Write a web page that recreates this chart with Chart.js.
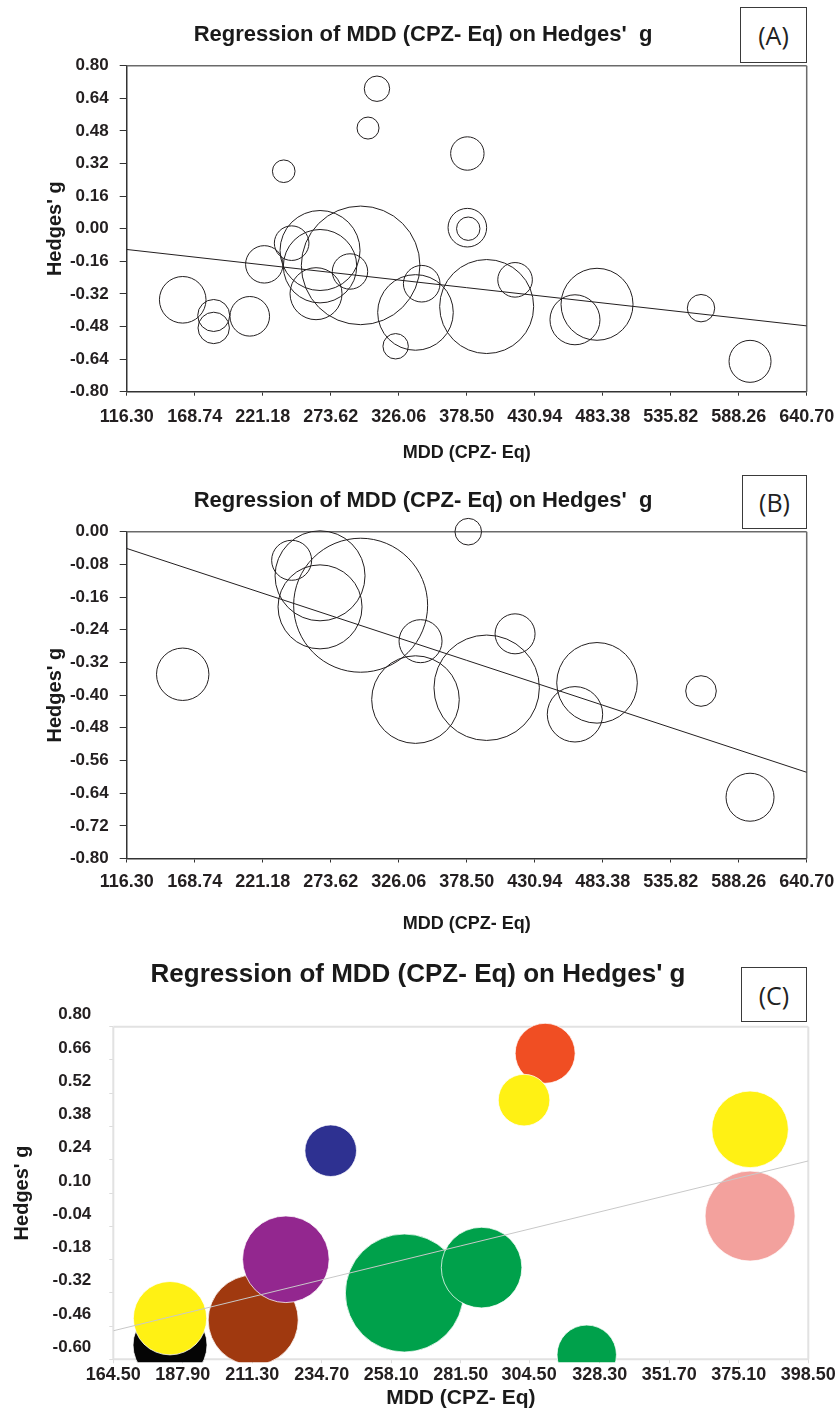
<!DOCTYPE html>
<html>
<head>
<meta charset="utf-8">
<title>Regression of MDD (CPZ- Eq) on Hedges' g</title>
<script src="https://cdn.jsdelivr.net/npm/chart.js@4.4.1/dist/chart.umd.min.js"></script>
<style>
  html, body { margin: 0; padding: 0; background: #fff; }
  body { position: relative; width: 840px; height: 1415px; overflow: hidden; }
  .panel { position: absolute; left: 0; width: 840px; }
  .panel canvas { display: block; }
  .tag {
    position: absolute; box-sizing: border-box; border: 1.5px solid #3a3a3a; background: #fff;
    font-family: 'Open Sans', 'Noto Sans', sans-serif; font-size: 25px; color: #222;
    display: flex; align-items: center; justify-content: center;
  }
</style>
</head>
<body>
<div class="panel" style="top:0;height:470px"><canvas id="chartA" width="840" height="470"></canvas></div>
<div class="panel" style="top:470px;height:480px"><canvas id="chartB" width="840" height="480"></canvas></div>
<div class="panel" style="top:950px;height:465px"><canvas id="chartC" width="840" height="465"></canvas></div>
<div class="tag" style="left:740px;top:7px;width:67px;height:56px">(A)</div>
<div class="tag" style="left:742px;top:475px;width:65px;height:54px">(B)</div>
<div class="tag" style="left:741px;top:967px;width:66px;height:55px">(C)</div>

<script>
const chartTitle = "Regression of MDD (CPZ- Eq) on Hedges'  g";
const chartTitleC = "Regression of MDD (CPZ- Eq) on Hedges' g";
const xTitle = "MDD (CPZ- Eq)";
const yTitle = "Hedges' g";

// ── Panel A: all studies ──
const mddA = [159.5, 183.4, 183.4, 211.2, 237.4, 222.4, 243.5, 265.4, 265.4, 262.3, 288.5, 296.7, 309.3,
  302.4, 323.7, 339.0, 343.8, 393.9, 379.0, 379.0, 379.7, 415.8, 462.0, 479.0, 559.2, 597.0];
const hedgesA = [-0.349, -0.426, -0.487, -0.430, 0.282, -0.175, -0.071, -0.107, -0.184, -0.319, -0.210, -0.180, 0.687,
  0.494, -0.577, -0.411, -0.270, -0.382, 0.369, 0.005, 0.000, -0.251, -0.447, -0.371, -0.390, -0.651];
const weightA = [2.33, 1.60, 1.57, 1.98, 1.13, 1.87, 1.73, 4.00, 3.67, 2.60, 1.77, 5.93, 1.27,
  1.10, 1.27, 3.78, 1.83, 4.70, 1.67, 1.93, 1.17, 1.73, 2.50, 3.60, 1.37, 2.10];
const fitMddA = [116.3, 640.7];
const fitHedgesA = [-0.102, -0.477];
const xTicksA = [116.30, 168.74, 221.18, 273.62, 326.06, 378.50, 430.94, 483.38, 535.82, 588.26, 640.70];
const yTicksA = [-0.80, -0.64, -0.48, -0.32, -0.16, 0.00, 0.16, 0.32, 0.48, 0.64, 0.80];

// ── Panel B: subset ──
const mddB = [159.5, 243.5, 265.4, 265.4, 296.7, 342.9, 339.0, 393.9, 379.7, 415.8, 462.0, 479.0, 559.2, 597.0];
const hedgesB = [-0.349, -0.070, -0.108, -0.184, -0.180, -0.268, -0.411, -0.382, 0.000, -0.250, -0.447, -0.370, -0.390, -0.650];
const weightB = [2.62, 2.00, 4.50, 4.20, 6.70, 2.15, 4.38, 5.27, 1.33, 2.00, 2.77, 4.03, 1.53, 2.40];
const fitMddB = [116.3, 640.7];
const fitHedgesB = [-0.041, -0.589];
const xTicksB = xTicksA;
const yTicksB = [-0.80, -0.72, -0.64, -0.56, -0.48, -0.40, -0.32, -0.24, -0.16, -0.08, 0.00];

// ── Panel C: coloured subset ──
const mddC = [183.6, 183.6, 211.6, 222.6, 262.5, 288.5, 323.9, 237.7, 309.9, 302.8, 378.9, 378.9];
const hedgesC = [-0.540, -0.427, -0.435, -0.179, -0.321, -0.214, -0.581, 0.278, 0.688, 0.491, 0.368, 0.003];
const weightC = [3.70, 3.67, 4.50, 4.33, 5.90, 4.03, 2.97, 2.58, 3.00, 2.58, 3.83, 4.50];
const colorC = ["#050505", "#fff114", "#a0390f", "#93278f", "#00a14b", "#00a14b", "#00a14b",
  "#2e3191", "#f04e23", "#fff114", "#fff114", "#f3a19d"];
const fitMddC = [164.5, 398.5];
const fitHedgesC = [-0.480, 0.235];
const xTicksC = [164.50, 187.90, 211.30, 234.70, 258.10, 281.50, 304.50, 328.30, 351.70, 375.10, 398.50];
const yTicksC = [-0.60, -0.46, -0.32, -0.18, -0.04, 0.10, 0.24, 0.38, 0.52, 0.66, 0.80];

const sans = "'Liberation Sans', Arial, Helvetica, sans-serif";
const ink = "#231f20";

// Draws the remaining sides of the plot box.
const framePlugin = {
  id: "frame",
  beforeDatasetsDraw(chart, args, opts) {
    const { ctx, chartArea: a } = chart;
    ctx.save();
    ctx.strokeStyle = opts.color;
    ctx.lineWidth = opts.width;
    ctx.beginPath();
    (opts.sides || []).forEach((s) => {
      if (s === "top") { ctx.moveTo(a.left, a.top); ctx.lineTo(a.right, a.top); }
      if (s === "right") { ctx.moveTo(a.right, a.top); ctx.lineTo(a.right, a.bottom); }
      if (s === "bottom") { ctx.moveTo(a.left, a.bottom); ctx.lineTo(a.right, a.bottom); }
      if (s === "left") { ctx.moveTo(a.left, a.top); ctx.lineTo(a.left, a.bottom); }
    });
    ctx.stroke();
    ctx.restore();
  }
};

function buildPanel(canvasId, p) {
  const points = p.mdd.map((x, i) => ({ x, y: p.hedges[i], r: p.weight[i] * p.bubbleScale }));
  const fit = p.fitMdd.map((x, i) => ({ x, y: p.fitHedges[i] }));
  const padRight = 840 - p.area.right;
  return new Chart(document.getElementById(canvasId), {
    type: "bubble",
    plugins: [framePlugin],
    data: {
      datasets: [
        {
          type: "line", data: fit, borderColor: p.lineColor, borderWidth: 1,
          pointRadius: 0, fill: false, order: 0, clip: 0
        },
        {
          data: points, backgroundColor: p.fill, borderColor: p.stroke,
          borderWidth: p.strokeWidth, order: 1, clip: p.clip
        }
      ]
    },
    options: {
      responsive: false,
      animation: false,
      events: [],
      // bubbles must not push the plot area inwards
      layout: { autoPadding: false, padding: { left: p.padLeft, top: 0, bottom: 0, right: padRight } },
      plugins: {
        legend: { display: false },
        tooltip: { enabled: false },
        title: {
          display: true, text: p.title, color: "#1a1a1a",
          font: { family: sans, size: p.titleSize, weight: "bold" },
          padding: p.titlePad
        },
        frame: p.frame
      },
      scales: {
        x: {
          type: "linear", min: p.xTicks[0], max: p.xTicks[p.xTicks.length - 1],
          afterBuildTicks: (s) => { s.ticks = p.xTicks.map((v) => ({ value: v })); },
          afterFit: (s) => { s.height = p.xAxisHeight; s.paddingLeft = 0; s.paddingRight = 0; },
          ticks: {
            autoSkip: false, maxRotation: 0, color: ink, padding: p.xTickPad,
            font: { family: sans, size: p.xTickSize, weight: "bold" },
            callback: (v) => Number(v).toFixed(2)
          },
          grid: { drawOnChartArea: false, drawTicks: true, tickLength: 4, tickColor: p.tickColor },
          border: { display: p.axisBorder, color: p.axisColor, width: 1.5 },
          title: {
            display: true, text: xTitle, color: "#1a1a1a",
            font: { family: sans, size: p.xTitleSize, weight: "bold" },
            padding: { top: 0, bottom: p.xTitlePad }
          }
        },
        y: {
          type: "linear", min: p.yTicks[0], max: p.yTicks[p.yTicks.length - 1],
          afterBuildTicks: (s) => { s.ticks = p.yTicks.map((v) => ({ value: v })); },
          afterFit: (s) => { s.width = p.area.left - p.padLeft; s.paddingTop = 0; s.paddingBottom = 0; },
          ticks: {
            autoSkip: false, color: ink, padding: p.yTickPad, labelOffset: p.yLabelOffset,
            font: { family: sans, size: p.yTickSize, weight: "bold" },
            callback: (v) => Number(v).toFixed(2)
          },
          grid: { drawOnChartArea: false, drawTicks: true, tickLength: p.yTickLen, tickColor: p.tickColor },
          border: { display: p.axisBorder, color: p.axisColor, width: 1.5 },
          title: {
            display: true, text: yTitle, color: "#1a1a1a",
            font: { family: sans, size: 20, weight: "bold" },
            padding: { top: p.yTitlePad, bottom: 0 }
          }
        }
      }
    }
  });
}

buildPanel("chartA", {
  mdd: mddA, hedges: hedgesA, weight: weightA, bubbleScale: 10,
  fitMdd: fitMddA, fitHedges: fitHedgesA, xTicks: xTicksA, yTicks: yTicksA,
  title: chartTitle, titleSize: 22, titlePad: { top: 21.8, bottom: 17.5 },
  area: { left: 126.7, right: 806.7 }, padLeft: 39.3, xAxisHeight: 78.3,
  xTickSize: 18, yTickSize: 17, xTickPad: 11, yTickPad: 11, yTickLen: 7, yLabelOffset: 0,
  xTitleSize: 18, xTitlePad: 6, yTitlePad: 3.7,
  fill: "rgba(0,0,0,0)", stroke: "#231f20", strokeWidth: 1, clip: false,
  lineColor: "#231f20", tickColor: "#333", axisColor: "#333", axisBorder: true,
  frame: { color: "#6a6a6a", width: 1.5, sides: ["top", "right"] }
});

buildPanel("chartB", {
  mdd: mddB, hedges: hedgesB, weight: weightB, bubbleScale: 10,
  fitMdd: fitMddB, fitHedges: fitHedgesB, xTicks: xTicksB, yTicks: yTicksB,
  title: chartTitle, titleSize: 22, titlePad: { top: 17.8, bottom: 17.5 },
  area: { left: 126.7, right: 806.7 }, padLeft: 39.3, xAxisHeight: 91.5,
  xTickSize: 18, yTickSize: 17, xTickPad: 9, yTickPad: 11, yTickLen: 7, yLabelOffset: 0,
  xTitleSize: 18, xTitlePad: 15, yTitlePad: 3.7,
  fill: "rgba(0,0,0,0)", stroke: "#231f20", strokeWidth: 1, clip: false,
  lineColor: "#231f20", tickColor: "#333", axisColor: "#333", axisBorder: true,
  frame: { color: "#6a6a6a", width: 1.5, sides: ["top", "right"] }
});

buildPanel("chartC", {
  mdd: mddC, hedges: hedgesC, weight: weightC, bubbleScale: 10,
  fitMdd: fitMddC, fitHedges: fitHedgesC, xTicks: xTicksC, yTicks: yTicksC,
  title: chartTitleC, titleSize: 26, titlePad: { top: 9.4, bottom: 36.1 },
  area: { left: 113.3, right: 808.3 }, padLeft: 27.7, xAxisHeight: 55.7,
  xTickSize: 18, yTickSize: 17, xTickPad: 1, yTickPad: 18, yTickLen: 4, yLabelOffset: -12,
  xTitleSize: 21, xTitlePad: 4, yTitlePad: -17.2,
  fill: colorC, stroke: "rgba(255,255,255,0.75)", strokeWidth: 1,
  clip: { left: 0, top: 8, right: 0, bottom: 3 },
  lineColor: "#c8c8c8", tickColor: "#dcdcdc", axisColor: "#e2e2e2", axisBorder: false,
  frame: { color: "#e2e2e2", width: 2, sides: ["top", "right", "bottom", "left"] }
});
</script>
</body>
</html>
